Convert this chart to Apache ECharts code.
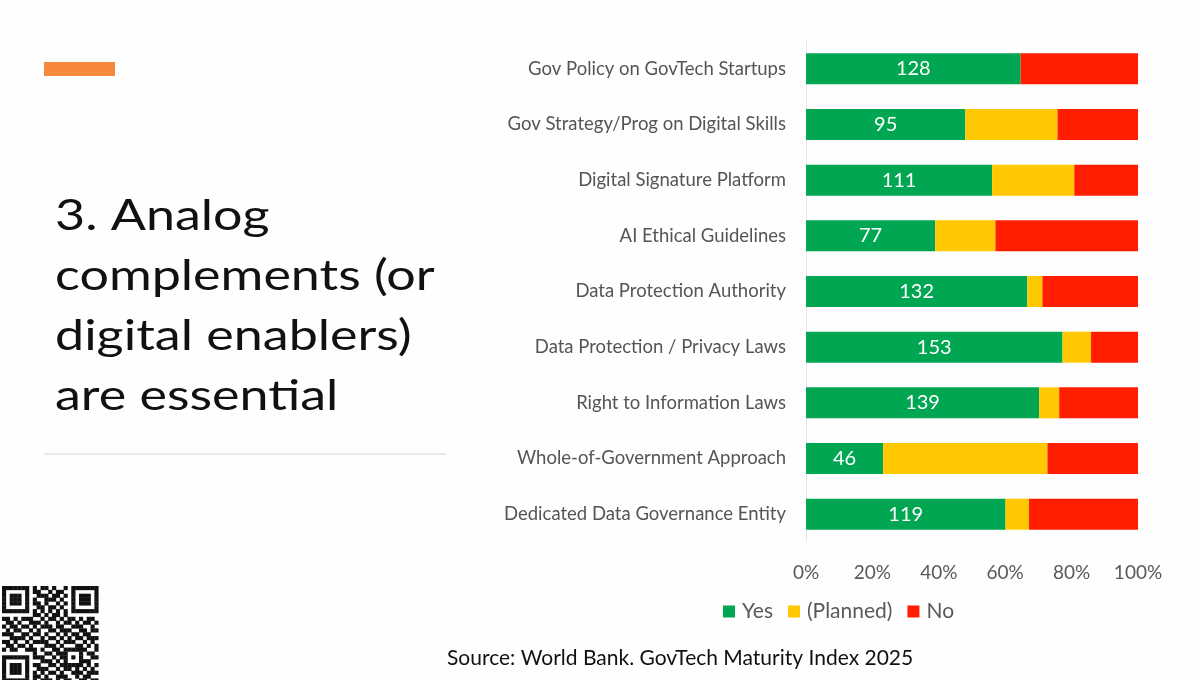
<!DOCTYPE html>
<html>
<head>
<meta charset="utf-8">
<script src="https://cdn.jsdelivr.net/npm/echarts@6/dist/echarts.min.js"></script>
<style>
html,body{margin:0;padding:0;background:#fefefe;}
#chart{width:1200px;height:680px;}
</style>
</head>
<body>
<div id="chart"></div>
<script>
// ---- data ----
const categories = [
  'Gov Policy on GovTech Startups',
  'Gov Strategy/Prog on Digital Skills',
  'Digital Signature Platform',
  'AI Ethical Guidelines',
  'Data Protection Authority',
  'Data Protection / Privacy Laws',
  'Right to Information Laws',
  'Whole-of-Government Approach',
  'Dedicated Data Governance Entity'
];
const yesCounts     = [128, 95, 111, 77, 132, 153, 139, 46, 119];
const plannedCounts = [0,   55, 49,  36, 9,   17,  12,  98, 14];
const noCounts      = [70,  48, 38,  85, 57,  28,  47,  54, 65];
const seriesNames = ['Yes', '(Planned)', 'No'];
const xTickValues = [0, 20, 40, 60, 80, 100];
const titleLines = ['3. Analog', 'complements (or', 'digital enablers)', 'are essential'];
const sourceText = 'Source: World Bank. GovTech Maturity Index 2025';

// QR-like decoration pattern (visual only)
const qrRows = [
  '1111111010110100101111111',
  '1000001011001011001000001',
  '1011101001110110101011101',
  '1011101010011101001011101',
  '1011101011010010101011101',
  '1000001001101101001000001',
  '1111111010101010101111111',
  '0000000011010110100000000',
  '1101011100101101011010110',
  '0110100111010010110101101',
  '1011011010111011001110010',
  '0101100101001101110011011',
  '1110011011010010101101100',
  '0011110100101101010110111',
  '1101001011110010111001010',
  '0110110100011101000110101',
  '1011001110100110111111001',
  '0000000010011011100010110',
  '1111111011100101101010011',
  '1000001000111010100011100',
  '1011101011001101111110101',
  '1011101001110010110101010',
  '1011101010101101001110111',
  '1000001011010011100101100',
  '1111111010111010110011011'
];

// ---- build ----
const totals = yesCounts.map((v, i) => v + plannedCounts[i] + noCounts[i]);
const pct = arr => arr.map((v, i) => v / totals[i] * 100);
const colors = ['#00A651', '#FFC800', '#FF1E00'];

const font = 'Lato, "Open Sans", sans-serif';

const graphics = [];
graphics.push({type:'rect', shape:{x:44, y:62, width:71, height:14}, style:{fill:'#F5883A'}});
graphics.push({type:'line', shape:{x1:44, y1:454, x2:446, y2:454}, style:{stroke:'#e2e2e2', lineWidth:1.5}});
titleLines.forEach((t, i) => {
  graphics.push({type:'text', x:55, y:195 + i * 60, scaleX:1.21,
    style:{text:t, x:0, y:0, verticalAlign:'top', font:'43px ' + font, fill:'#111'}});
});
graphics.push({type:'text', left:447, top:648,
  style:{text:sourceText, font:'21px ' + font, fill:'#111'}});
const mod = 3.85;
qrRows.forEach((row, r) => {
  for (let c = 0; c < row.length; c++) {
    if (row[c] === '1') {
      graphics.push({type:'rect', shape:{x:2 + c*mod, y:586 + r*mod, width:mod+0.3, height:mod+0.3}, style:{fill:'#111'}, silent:true});
    }
  }
});

const chart = echarts.init(document.getElementById('chart'), null, {renderer:'canvas'});
chart.setOption({
  backgroundColor:'#fefefe',
  animation:false,
  color: colors,
  legend:{
    data: seriesNames,
    left: 718, top: 596,
    itemWidth: 12, itemHeight: 12, itemGap: 15,
    icon: 'rect',
    textStyle:{fontFamily:font, fontSize:21, color:'#595959', padding:[0,0,0,2]}
  },
  grid:{left:806, right:62, top:41, bottom:138, containLabel:false},
  xAxis:{
    type:'value', min:0, max:100, interval:20,
    axisLabel:{formatter: v => v + '%', fontFamily:font, fontSize:19, color:'#595959', margin:21},
    axisLine:{show:false}, axisTick:{show:false}, splitLine:{show:false}
  },
  yAxis:{
    type:'category', inverse:true, data:categories,
    axisLabel:{fontFamily:font, fontSize:18.5, color:'#555555', margin:20},
    axisLine:{show:true, lineStyle:{color:'#e6e6e6', width:1}},
    axisTick:{show:false}
  },
  series:[
    {name:seriesNames[0], type:'bar', stack:'s', barWidth:31, data:pct(yesCounts),
     label:{show:true, position:'inside', formatter: p => yesCounts[p.dataIndex],
       color:'#fff', fontFamily:font, fontSize:20}},
    {name:seriesNames[1], type:'bar', stack:'s', barWidth:31, data:pct(plannedCounts)},
    {name:seriesNames[2], type:'bar', stack:'s', barWidth:31, data:pct(noCounts)}
  ],
  graphic: graphics
});
</script>
</body>
</html>
